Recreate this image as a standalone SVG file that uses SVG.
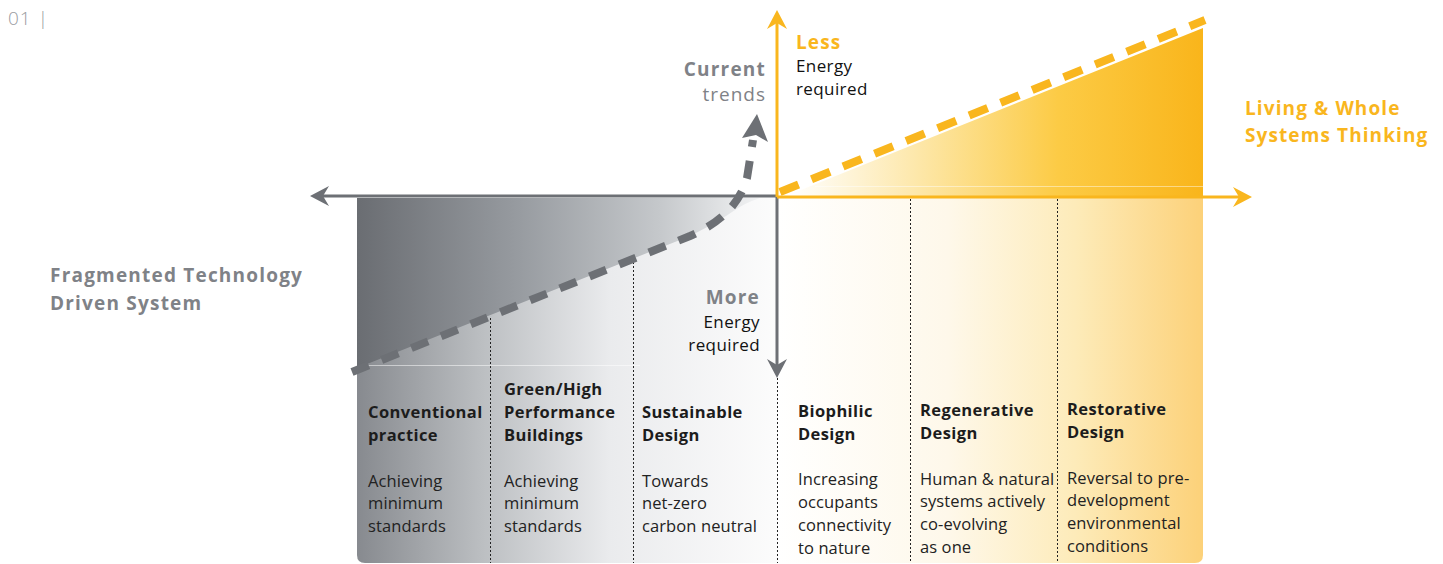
<svg xmlns="http://www.w3.org/2000/svg" width="1443" height="564" viewBox="0 0 1443 564">
  <style>
    text { font-family: "Open Sans", "Noto Sans", "Liberation Sans", sans-serif; }
    .ttl { font-size: 16.5px; font-weight: 700; fill: #1c1c1c; letter-spacing: 0.4px; }
    .body { font-size: 16.5px; font-weight: 400; fill: #222; letter-spacing: 0.1px; }
    .grayB { font-size: 19px; font-weight: 700; fill: #7f8287; letter-spacing: 1.2px; }
    .grayR { font-size: 19px; font-weight: 400; fill: #7f8287; letter-spacing: 1px; }
    .orB { font-size: 19px; font-weight: 700; fill: #f9b61e; letter-spacing: 1.1px; }
    .blk { font-size: 17px; font-weight: 400; fill: #111; letter-spacing: 0.4px; }
    .sep { stroke: #222; stroke-width: 1; stroke-dasharray: 2 2; fill: none; }
    .axG { stroke: #6d7075; stroke-width: 3; fill: none; }
    .axO { stroke: #f9b61e; stroke-width: 3; fill: none; }
  </style>
  <defs>
    <linearGradient id="gLow" x1="357" y1="0" x2="778" y2="0" gradientUnits="userSpaceOnUse">
      <stop offset="0" stop-color="#878a8f"/>
      <stop offset="0.3" stop-color="#bcbfc2"/>
      <stop offset="0.6" stop-color="#eaebed"/>
      <stop offset="1" stop-color="#fcfcfc"/>
    </linearGradient>
    <linearGradient id="gHigh" x1="357" y1="0" x2="760" y2="0" gradientUnits="userSpaceOnUse">
      <stop offset="0" stop-color="#6a6d72"/>
      <stop offset="0.4" stop-color="#979ba0"/>
      <stop offset="0.75" stop-color="#c5c8cb"/>
      <stop offset="1" stop-color="#f2f3f4"/>
    </linearGradient>
    <linearGradient id="oLow" x1="778" y1="0" x2="1203" y2="0" gradientUnits="userSpaceOnUse">
      <stop offset="0" stop-color="#ffffff"/>
      <stop offset="0.4" stop-color="#fef8ea"/>
      <stop offset="0.7" stop-color="#fdebb9"/>
      <stop offset="1" stop-color="#fcd179"/>
    </linearGradient>
    <linearGradient id="oHigh" x1="790" y1="0" x2="1203" y2="0" gradientUnits="userSpaceOnUse">
      <stop offset="0" stop-color="#ffffff"/>
      <stop offset="0.3" stop-color="#fde8ac"/>
      <stop offset="0.65" stop-color="#fccb45"/>
      <stop offset="1" stop-color="#f9b51b"/>
    </linearGradient>
    <marker id="arrG" markerUnits="userSpaceOnUse" viewBox="0 -11 20 22" refX="6" refY="0" markerWidth="20" markerHeight="22" orient="auto">
      <path d="M0,-10 L19,0 L0,10 L6,0 Z" fill="#6d7075"/>
    </marker>
    <marker id="arrO" markerUnits="userSpaceOnUse" viewBox="0 -11 20 22" refX="6" refY="0" markerWidth="20" markerHeight="22" orient="auto">
      <path d="M0,-10 L19,0 L0,10 L6,0 Z" fill="#f9b61e"/>
    </marker>
  </defs>

  <!-- page number -->
  <text x="8" y="25" style="font-family:'Open Sans','Noto Sans',sans-serif;font-size:19px;font-weight:300;fill:#9a9c9f;letter-spacing:1px">01 |</text>

  <!-- lower panels -->
  <g id="panels">
    <path d="M357,198 H778 V563 H365 Q357,563 357,555 Z" fill="url(#gLow)"/>
    <path d="M778,198 H1203 V555 Q1203,563 1195,563 H778 Z" fill="url(#oLow)"/>
    <!-- shaded area above the current-trends line -->
    <path d="M357,198 L760,198 Q745,203 735,210 Q718,222 690,236 L357,368 Z" fill="url(#gHigh)"/>
    <!-- shaded area under the living-systems line -->
    <path d="M786,196 L1203,28 L1203,196 Z" fill="url(#oHigh)"/>
    <line x1="365" y1="365.5" x2="640" y2="365.5" stroke="#ffffff" stroke-opacity="0.5" stroke-width="1"/>
    <line x1="815" y1="186.5" x2="1203" y2="186.5" stroke="#ffffff" stroke-opacity="0.45" stroke-width="1"/>
  </g>

  <!-- column separators -->
  <g id="separators">
    <line class="sep" x1="490.5" y1="318" x2="490.5" y2="563"/>
    <line class="sep" x1="633.5" y1="262" x2="633.5" y2="563"/>
    <line class="sep" x1="777.5" y1="378" x2="777.5" y2="563"/>
    <line class="sep" x1="910.5" y1="199" x2="910.5" y2="563"/>
    <line class="sep" x1="1057.5" y1="199" x2="1057.5" y2="563"/>
  </g>

  <!-- axes and trend lines -->
  <g id="connectors">
    <line class="axG" x1="777" y1="196" x2="323" y2="196" marker-end="url(#arrG)"/>
    <line class="axG" x1="777" y1="196" x2="777" y2="365" marker-end="url(#arrG)"/>
    <line class="axO" x1="777" y1="197" x2="1239" y2="197" marker-end="url(#arrO)"/>
    <line class="axO" x1="777" y1="197" x2="777" y2="23" marker-end="url(#arrO)"/>
    <!-- current trends -->
    <path d="M352,372 L690,236 C722,222 740,203 747,178 L753,140" fill="none" stroke="#6d7075" stroke-width="8" stroke-dasharray="18 14"/>
    <path d="M757,114 L768,142 L756,135 L742,138 Z" fill="#6d7075"/>
    <!-- living systems -->
    <path d="M780,192 L1205,20" fill="none" stroke="#f9b61e" stroke-width="8" stroke-dasharray="20 14"/>
  </g>

  <!-- axis labels -->
  <g id="label-current">
    <text class="grayB" x="766" y="76" text-anchor="end">Current</text>
    <text class="grayR" x="766" y="101" text-anchor="end">trends</text>
  </g>
  <g id="label-less">
    <text class="orB" x="796" y="49">Less</text>
    <text class="blk" x="796" y="72">Energy</text>
    <text class="blk" x="796" y="95">required</text>
  </g>
  <g id="label-living">
    <text class="orB" x="1245" y="115">Living &amp; Whole</text>
    <text class="orB" x="1245" y="142">Systems Thinking</text>
  </g>
  <g id="label-fragmented">
    <text class="grayB" x="50" y="282">Fragmented Technology</text>
    <text class="grayB" x="50" y="310">Driven System</text>
  </g>
  <g id="label-more">
    <text class="grayB" x="760" y="304" text-anchor="end">More</text>
    <text class="blk" x="760" y="328" text-anchor="end">Energy</text>
    <text class="blk" x="760" y="351" text-anchor="end">required</text>
  </g>

  <!-- columns -->
  <g id="col-conventional">
    <text class="ttl" x="368" y="418">Conventional</text>
    <text class="ttl" x="368" y="441">practice</text>
    <text class="body" x="368" y="487">Achieving</text>
    <text class="body" x="368" y="509">minimum</text>
    <text class="body" x="368" y="532">standards</text>
  </g>
  <g id="col-green">
    <text class="ttl" x="504" y="395">Green/High</text>
    <text class="ttl" x="504" y="418">Performance</text>
    <text class="ttl" x="504" y="441">Buildings</text>
    <text class="body" x="504" y="487">Achieving</text>
    <text class="body" x="504" y="509">minimum</text>
    <text class="body" x="504" y="532">standards</text>
  </g>
  <g id="col-sustainable">
    <text class="ttl" x="642" y="418">Sustainable</text>
    <text class="ttl" x="642" y="441">Design</text>
    <text class="body" x="642" y="487">Towards</text>
    <text class="body" x="642" y="509">net-zero</text>
    <text class="body" x="642" y="532">carbon neutral</text>
  </g>
  <g id="col-biophilic">
    <text class="ttl" x="798" y="417">Biophilic</text>
    <text class="ttl" x="798" y="440">Design</text>
    <text class="body" x="798" y="485">Increasing</text>
    <text class="body" x="798" y="508">occupants</text>
    <text class="body" x="798" y="531">connectivity</text>
    <text class="body" x="798" y="554">to nature</text>
  </g>
  <g id="col-regenerative">
    <text class="ttl" x="920" y="416">Regenerative</text>
    <text class="ttl" x="920" y="439">Design</text>
    <text class="body" x="920" y="485">Human &amp; natural</text>
    <text class="body" x="920" y="507">systems actively</text>
    <text class="body" x="920" y="530">co-evolving</text>
    <text class="body" x="920" y="553">as one</text>
  </g>
  <g id="col-restorative">
    <text class="ttl" x="1067" y="415">Restorative</text>
    <text class="ttl" x="1067" y="438">Design</text>
    <text class="body" x="1067" y="484">Reversal to pre-</text>
    <text class="body" x="1067" y="506">development</text>
    <text class="body" x="1067" y="529">environmental</text>
    <text class="body" x="1067" y="552">conditions</text>
  </g>
</svg>
